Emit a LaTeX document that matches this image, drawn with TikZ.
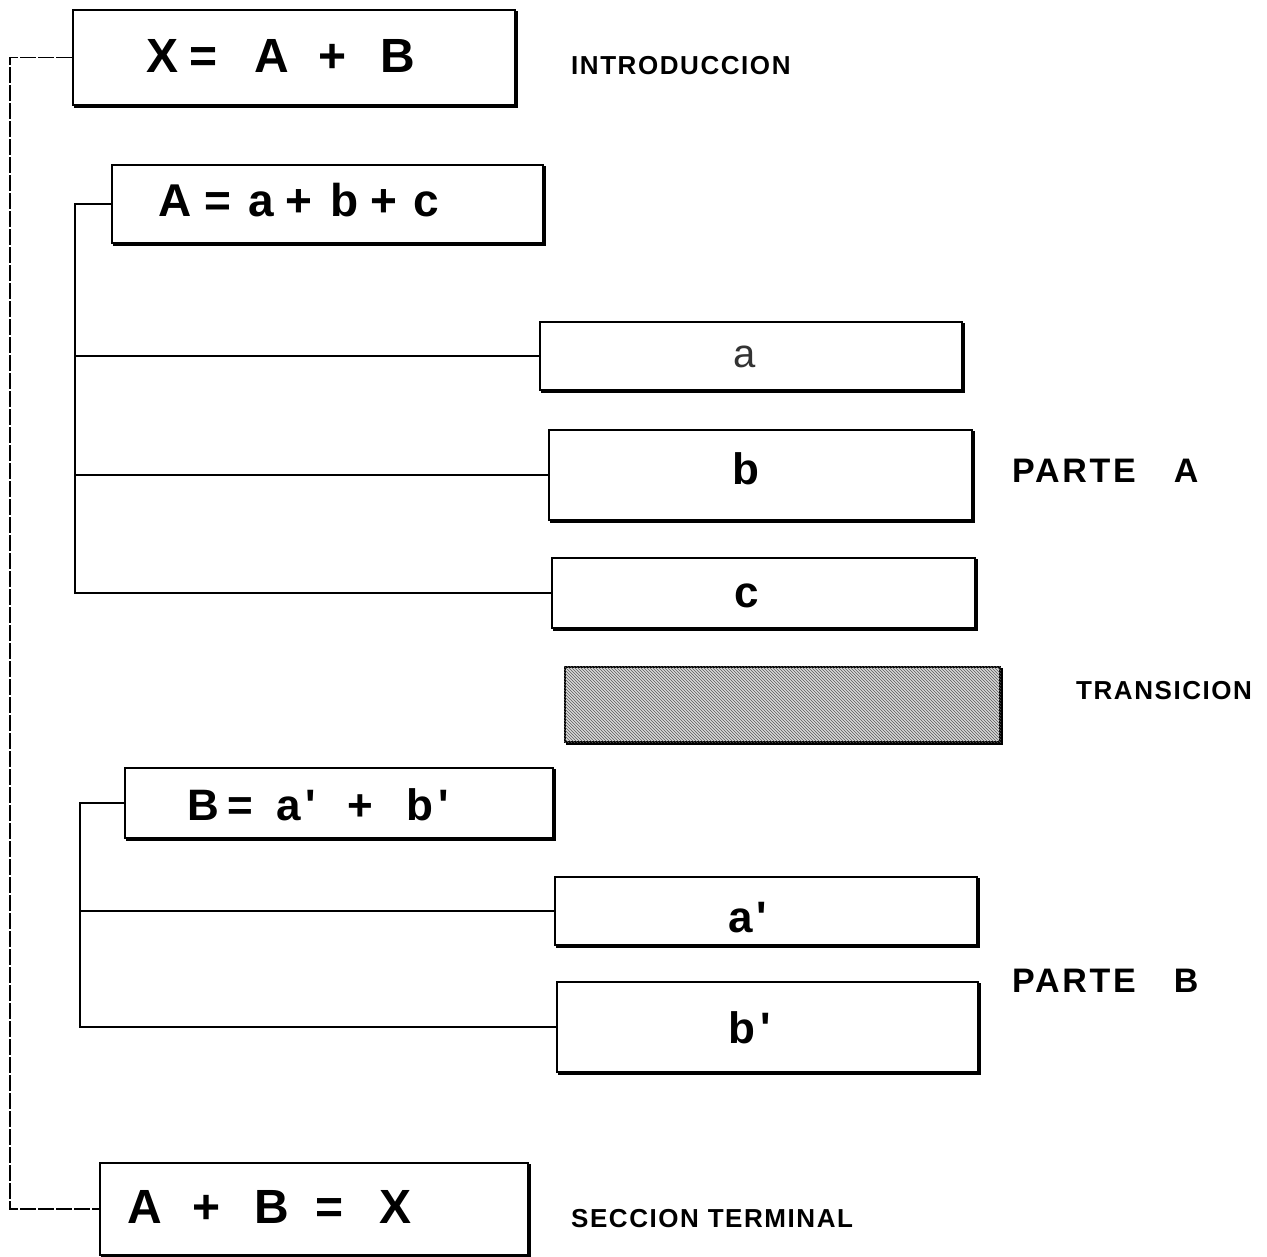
\documentclass[tikz,border=0pt]{standalone}
\usepackage{fontspec}
\setmainfont{Liberation Sans}
\usetikzlibrary{shadows,patterns}
\tikzset{
  box/.style={draw, line width=1.6pt, fill=white, rectangle, inner sep=0pt,
    copy shadow={shadow xshift=2pt, shadow yshift=-2pt, draw=black, fill=black}},
  eqbig/.style={font=\fontsize{48}{56}\selectfont\bfseries, inner sep=0pt, anchor=base west},
  eqmid/.style={font=\fontsize{46}{54}\selectfont\bfseries, inner sep=0pt, anchor=base west},
  eqsml/.style={font=\fontsize{44}{52}\selectfont\bfseries, inner sep=0pt, anchor=base west},
  let/.style={font=\fontsize{44}{52}\selectfont\bfseries, inner sep=0pt, anchor=base},
  lab/.style={font=\fontsize{26}{30}\selectfont\bfseries\addfontfeature{LetterSpace=6}, anchor=base west, inner sep=0pt},
  bigLab/.style={font=\fontsize{34}{39}\selectfont\bfseries\addfontfeature{LetterSpace=8}, anchor=base west, inner sep=0pt},
  conn/.style={line width=1.2pt},
  outer/.style={line width=1.1pt, dash pattern=on 16pt off 2pt}
}
\begin{document}
\begin{tikzpicture}[x=1pt,y=-1pt]
\useasboundingbox (0,0) rectangle (1267,1257);
% boxes
\node[box, minimum width=442pt, minimum height=95pt] (X) at (294,57.5) {};
\node[box, minimum width=431pt, minimum height=78pt] (A) at (327.5,204) {};
\node[box, minimum width=422pt, minimum height=68pt] (a) at (751,356) {};
\node[box, minimum width=423pt, minimum height=90pt] (b) at (760.5,475) {};
\node[box, minimum width=423pt, minimum height=70pt] (c) at (763.5,593) {};
\node[draw, line width=1.6pt, rectangle, inner sep=0pt, minimum width=435pt, minimum height=75pt,
      fill=gray!30, copy shadow={shadow xshift=2pt, shadow yshift=-2pt, draw=black, fill=black}] (T) at (782.5,704.5) {};
\fill[pattern=north west lines, pattern color=black!65] (T.south west) rectangle (T.north east);
\node[box, minimum width=428pt, minimum height=70pt] (B) at (339,803) {};
\node[box, minimum width=422pt, minimum height=68pt] (ap) at (766,911) {};
\node[box, minimum width=421pt, minimum height=90pt] (bp) at (767.5,1027) {};
\node[box, minimum width=428pt, minimum height=92pt] (X2) at (314,1209) {};
% texts in boxes
\node[eqbig] (tX) at (146,73) {X\hspace{11pt}=\hspace{37pt}A\hspace{30pt}+\hspace{34pt}B};
\node[eqmid] (tA) at (158,217) {A\hspace{13.5pt}=\hspace{17pt}a\hspace{11.6pt}+\hspace{17.4pt}b\hspace{12.6pt}+\hspace{15.4pt}c};
\node[eqsml] (tB) at (187,820) {B\hspace{9pt}=\hspace{23pt}a\hspace{4pt}\textquotesingle\hspace{32pt}+\hspace{33.5pt}b\hspace{5pt}\textquotesingle};
\node[eqbig] (tX2) at (127,1223) {A\hspace{31pt}+\hspace{34pt}B\hspace{26pt}=\hspace{36pt}X};
\node[let, font=\fontsize{40}{48}\selectfont, text=black!80] (ta) at (745,368) {a};
\node[let] (tb) at (745.5,484) {b};
\node[let] (tc) at (746.5,607) {c};
\node[let] (tap) at (748,932) {a\hspace{4pt}\textquotesingle};
\node[let] (tbp) at (750,1043) {b\hspace{5pt}\textquotesingle};
% side labels
\node[lab] (lI) at (571,75) {INTRODUCCION};
\node[bigLab] (lPA) at (1012,482) {PARTE\hspace{38pt}A};
\node[lab] (lT) at (1076,699) {TRANSICION};
\node[bigLab] (lPB) at (1012,992) {PARTE\hspace{38pt}B};
\node[lab] (lS) at (571,1227) {SECCION TERMINAL};
% connectors
\coordinate (o1) at (10,57.5);
\draw[outer] (X.west) -- (o1) |- (X2.west);
\coordinate (j1) at (75,204);
\draw[conn] (A.west) -- (j1) |- (c.west);
\draw[conn] (j1 |- a.west) -- (a.west);
\draw[conn] (j1 |- b.west) -- (b.west);
\coordinate (j2) at (80,803);
\draw[conn] (B.west) -- (j2) |- (bp.west);
\draw[conn] (j2 |- ap.west) -- (ap.west);
\end{tikzpicture}
\end{document}
